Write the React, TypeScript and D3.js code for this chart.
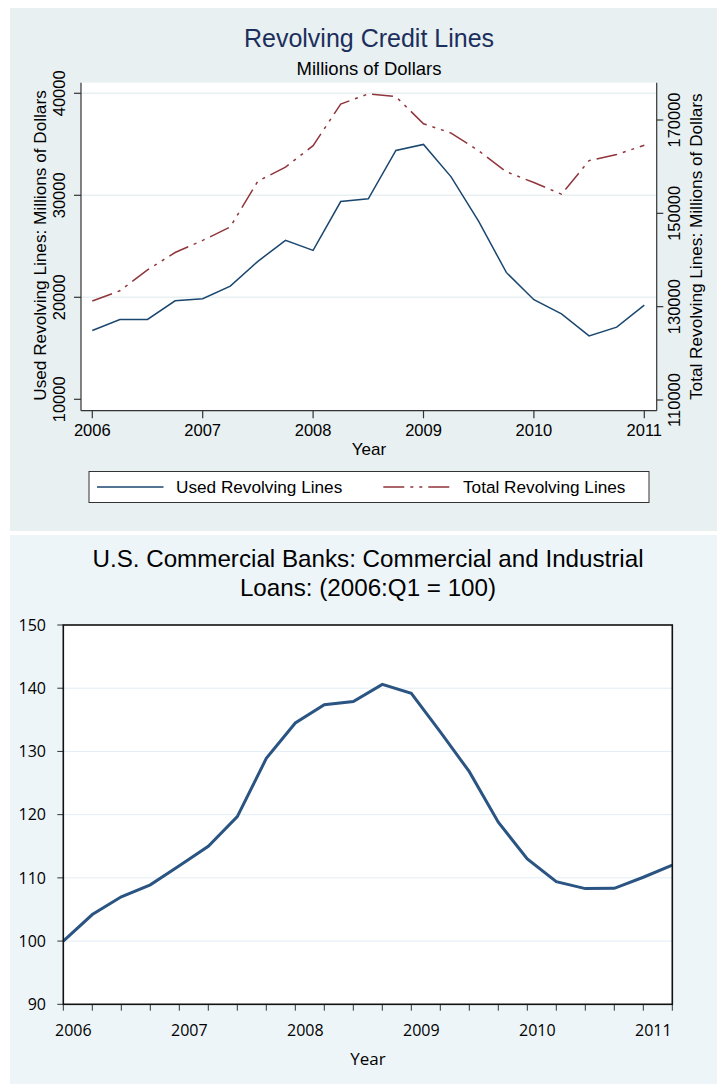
import React from "react";
import * as d3 from "d3";

// ---------- Top chart data (quarterly, 2006Q1 .. 2011Q1) ----------
const topQuarters: number[] = [
  2006, 2006.25, 2006.5, 2006.75, 2007, 2007.25, 2007.5, 2007.75, 2008, 2008.25,
  2008.5, 2008.75, 2009, 2009.25, 2009.5, 2009.75, 2010, 2010.25, 2010.5, 2010.75, 2011,
];
const usedLines: number[] = [
  16750, 17825, 17825, 19660, 19860, 21100, 23525, 25590, 24600, 29390,
  29650, 34400, 34990, 31810, 27450, 22440, 19760, 18380, 16220, 17070, 19230,
];
const totalLines: number[] = [
  131200, 133400, 137900, 141600, 144200, 147100, 156900, 159900, 164500, 173400,
  175600, 175000, 169200, 167200, 163400, 158900, 156600, 154100, 161300, 162600, 164600,
];
const topYears: number[] = [2006, 2007, 2008, 2009, 2010, 2011];
const leftTicks: number[] = [10000, 20000, 30000, 40000];
const leftGrid: number[] = [20000, 30000, 40000];
const rightTicks: number[] = [110000, 130000, 150000, 170000];

// ---------- Bottom chart data (quarterly, 2006Q1 .. 2011Q2) ----------
const ciQuarters: string[] = [
  "2006Q1", "2006Q2", "2006Q3", "2006Q4", "2007Q1", "2007Q2", "2007Q3", "2007Q4",
  "2008Q1", "2008Q2", "2008Q3", "2008Q4", "2009Q1", "2009Q2", "2009Q3", "2009Q4",
  "2010Q1", "2010Q2", "2010Q3", "2010Q4", "2011Q1", "2011Q2",
];
const ciLoans: number[] = [
  100, 104.2, 107.0, 108.9, 111.9, 115.0, 119.7, 128.9, 134.5, 137.4, 137.9,
  140.6, 139.2, 133.1, 126.8, 118.8, 113.0, 109.4, 108.3, 108.35, 110.1, 112.0,
];
const ciYearLabels: string[] = ["2006", "2007", "2008", "2009", "2010", "2011"];
const ciYTicks: number[] = [90, 100, 110, 120, 130, 140, 150];
const ciGrid: number[] = [100, 110, 120, 130, 140];

const NAVY = "#1a476f";
const MAROON = "#90353b";
const TOP_FONT = "'Liberation Sans', Arial, Helvetica, sans-serif";
const BOT_FONT = "'Open Sans', 'Liberation Sans', sans-serif";

export default function App() {
  // top scales
  const x1 = d3.scaleLinear().domain([2006, 2011]).range([92.3, 644.3]);
  const yL = d3.scaleLinear().domain([10000, 40000]).range([399.3, 93.3]);
  const yR = d3.scaleLinear().domain([110000, 170000]).range([400, 120]);
  const plotL = 81, plotR = 656.7, plotT = 82.7, plotB = 410.7;

  const usedPath = d3
    .line<number>()
    .x((_, i) => x1(topQuarters[i]))
    .y((d) => yL(d))(usedLines) as string;
  const totalPath = d3
    .line<number>()
    .x((_, i) => x1(topQuarters[i]))
    .y((d) => yR(d))(totalLines) as string;

  // bottom scales
  const x2 = d3.scaleLinear().domain([0, ciQuarters.length - 1]).range([63.3, 672.3]);
  const y2 = d3.scaleLinear().domain([90, 150]).range([1004.3, 625]);
  const ciPath = d3
    .line<number>()
    .x((_, i) => x2(i))
    .y((d) => y2(d))(ciLoans) as string;

  const dash = "21,6,3,6,3,6";

  return (
    <svg
      width={717}
      height={1084}
      style={{ position: "absolute", left: 0, top: 0, display: "block" }}
    >
      {/* ================= TOP PANEL ================= */}
      <rect x={10} y={8} width={707} height={523} fill="#e8f0f2" />
      <rect x={plotL} y={plotT} width={plotR - plotL} height={plotB - plotT} fill="#ffffff" />
      {leftGrid.map((v) => (
        <line key={"g" + v} x1={plotL} x2={plotR} y1={yL(v)} y2={yL(v)} stroke="#e8f0f2" strokeWidth={1.6} />
      ))}
      <text x={369} y={46.5} textAnchor="middle" fontFamily={TOP_FONT} fontSize={25} fill="#1c2f5c">
        Revolving Credit Lines
      </text>
      <text x={369} y={75} textAnchor="middle" fontFamily={TOP_FONT} fontSize={18.5} fill="#000">
        Millions of Dollars
      </text>

      {/* axes */}
      <line x1={plotL} x2={plotL} y1={plotT} y2={plotB} stroke="#333" strokeWidth={1.2} />
      <line x1={plotR} x2={plotR} y1={plotT} y2={plotB} stroke="#333" strokeWidth={1.2} />
      <line x1={plotL} x2={plotR} y1={plotB} y2={plotB} stroke="#333" strokeWidth={1.2} />

      {leftTicks.map((v) => (
        <g key={"l" + v}>
          <line x1={74} x2={plotL} y1={yL(v)} y2={yL(v)} stroke="#333" strokeWidth={1.2} />
          <text
            transform={`translate(65,${yL(v)}) rotate(-90)`}
            textAnchor="middle"
            fontFamily={TOP_FONT}
            fontSize={16.5}
            fill="#000"
          >
            {v}
          </text>
        </g>
      ))}
      {rightTicks.map((v) => (
        <g key={"r" + v}>
          <line x1={plotR} x2={663.3} y1={yR(v)} y2={yR(v)} stroke="#333" strokeWidth={1.2} />
          <text
            transform={`translate(680,${yR(v)}) rotate(-90)`}
            textAnchor="middle"
            fontFamily={TOP_FONT}
            fontSize={16.5}
            fill="#000"
          >
            {v}
          </text>
        </g>
      ))}
      {topYears.map((v) => (
        <g key={"x" + v}>
          <line x1={x1(v)} x2={x1(v)} y1={plotB} y2={418.3} stroke="#333" strokeWidth={1.2} />
          <text x={x1(v)} y={435.5} textAnchor="middle" fontFamily={TOP_FONT} fontSize={16.5} fill="#000">
            {v}
          </text>
        </g>
      ))}
      <text
        transform="translate(46,245.5) rotate(-90)"
        textAnchor="middle"
        fontFamily={TOP_FONT}
        fontSize={17.2}
        fill="#000"
      >
        Used Revolving Lines: Millions of Dollars
      </text>
      <text
        transform="translate(701.5,246.7) rotate(-90)"
        textAnchor="middle"
        fontFamily={TOP_FONT}
        fontSize={17.2}
        fill="#000"
      >
        Total Revolving Lines: Millions of Dollars
      </text>
      <text x={369} y={455} textAnchor="middle" fontFamily={TOP_FONT} fontSize={17} fill="#000">
        Year
      </text>

      {/* series */}
      <path d={totalPath} fill="none" stroke={MAROON} strokeWidth={1.5} strokeDasharray={dash} />
      <path d={usedPath} fill="none" stroke={NAVY} strokeWidth={1.5} />

      {/* legend */}
      <rect x={89} y={471.5} width={560} height={31} fill="#ffffff" stroke="#333" strokeWidth={1} />
      <line x1={97} x2={163.5} y1={487} y2={487} stroke={NAVY} strokeWidth={1.5} />
      <text x={176} y={493} fontFamily={TOP_FONT} fontSize={17.2} fill="#000">
        Used Revolving Lines
      </text>
      <line x1={383.3} x2={451} y1={487} y2={487} stroke={MAROON} strokeWidth={1.5} strokeDasharray={dash} />
      <text x={463} y={493} fontFamily={TOP_FONT} fontSize={17.2} fill="#000">
        Total Revolving Lines
      </text>

      {/* ================= BOTTOM PANEL ================= */}
      <rect x={10} y={535} width={707} height={549} fill="#edf5f9" />
      <text x={368} y={567} textAnchor="middle" fontFamily={TOP_FONT} fontSize={24.2} fill="#000">
        U.S. Commercial Banks: Commercial and Industrial
      </text>
      <text x={368} y={596} textAnchor="middle" fontFamily={TOP_FONT} fontSize={24.2} fill="#000">
        Loans: (2006:Q1 = 100)
      </text>
      <rect x={63.3} y={625} width={672.3 - 63.3} height={1004.3 - 625} fill="#ffffff" />
      {ciGrid.map((v) => (
        <line key={"cg" + v} x1={63.3} x2={672.3} y1={y2(v)} y2={y2(v)} stroke="#e2edf6" strokeWidth={1} />
      ))}
      {ciYTicks.map((v) => (
        <g key={"cy" + v}>
          <line x1={57.3} x2={63.3} y1={y2(v)} y2={y2(v)} stroke="#333" strokeWidth={1} />
          <text x={46} y={y2(v)} dy="0.36em" textAnchor="end" fontFamily={BOT_FONT} fontSize={16} fill="#000">
            {v}
          </text>
        </g>
      ))}
      {ciQuarters.map((q, i) => (
        <line key={q} x1={x2(i)} x2={x2(i)} y1={1004.3} y2={1010.7} stroke="#333" strokeWidth={1} />
      ))}
      {ciYearLabels.map((lab, k) => (
        <text
          key={lab}
          x={x2(ciQuarters.indexOf(lab + "Q1")) + 10}
          y={1036}
          textAnchor="middle"
          fontFamily={BOT_FONT}
          fontSize={16}
          fill="#000"
        >
          {lab}
        </text>
      ))}
      <text x={368} y={1065} textAnchor="middle" fontFamily={BOT_FONT} fontSize={17} fill="#000">
        Year
      </text>
      <path d={ciPath} fill="none" stroke="#2a5482" strokeWidth={3} />
      <rect
        x={63.3}
        y={625}
        width={672.3 - 63.3}
        height={1004.3 - 625}
        fill="none"
        stroke="#111"
        strokeWidth={1.6}
      />
    </svg>
  );
}
